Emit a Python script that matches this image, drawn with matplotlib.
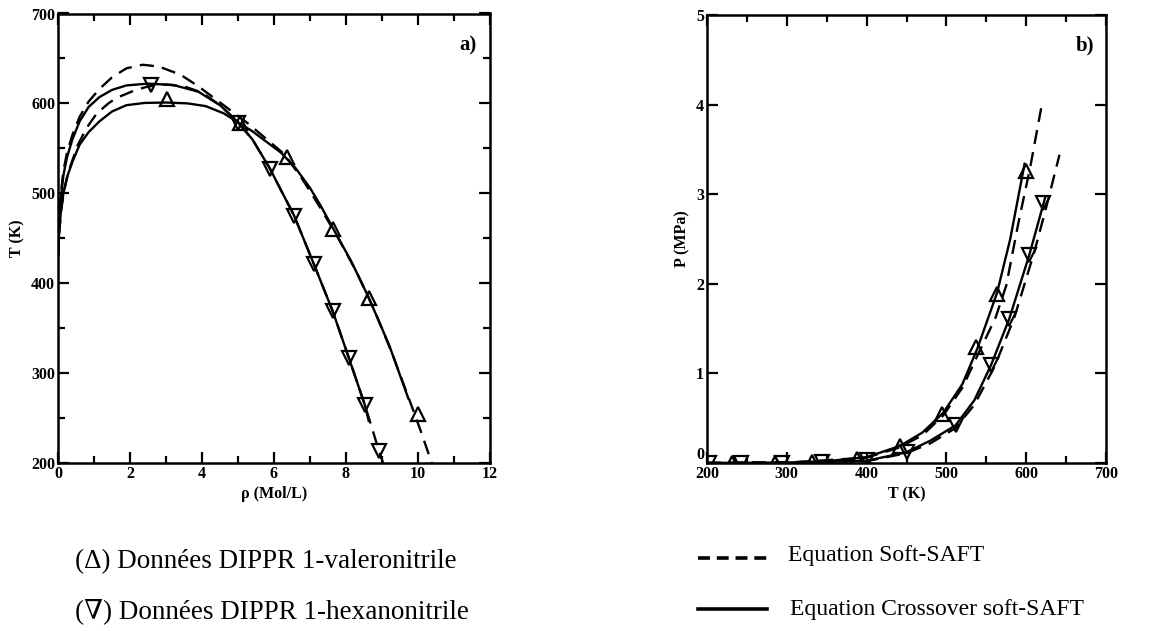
import matplotlib
matplotlib.use("Agg")
import matplotlib.pyplot as plt
from matplotlib.ticker import MultipleLocator
from matplotlib.lines import Line2D

# ---------------- Panel a) data : T (K) vs rho (mol/L) ----------------
val_data_rho = [3.02, 5.05, 6.37, 7.64, 8.63, 10.0]
val_data_T = [605, 578, 540, 460, 383, 254]
hex_data_rho = [2.58, 5.0, 5.88, 6.55, 7.11, 7.63, 8.07, 8.52, 8.92]
hex_data_T = [620, 578, 527, 475, 421, 369, 317, 265, 213]

val_cross_rho = [0.0, 0.03, 0.08, 0.15, 0.25, 0.4, 0.6, 0.85, 1.15, 1.5, 1.9, 2.4, 3.0, 3.6, 4.1, 4.6,
                 5.0, 5.4, 5.8, 6.2, 6.6, 7.0, 7.3, 7.64, 8.15, 8.63, 9.2, 9.73]
val_cross_T = [430, 455, 480, 500, 518, 535, 554, 568, 580, 591, 598, 600.5, 601, 600, 597, 589,
               579, 569, 557, 545, 528, 506, 486, 461, 424, 384, 331, 272]

val_saft_rho = [0.0, 0.03, 0.08, 0.15, 0.25, 0.4, 0.6, 0.85, 1.15, 1.5, 1.9, 2.35, 2.8, 3.4, 3.9, 4.4,
                4.9, 5.3, 5.8, 6.3, 6.8, 7.3, 7.8, 8.3, 8.8, 9.3, 9.8, 10.1, 10.38]
val_saft_T = [430, 470, 500, 525, 545, 565, 585, 602, 616, 629, 639, 643, 641, 632, 619, 604,
              589, 577, 560, 543, 515, 483, 449, 412, 369, 320, 266, 233, 200]

hex_cross_rho = [0.0, 0.03, 0.08, 0.15, 0.25, 0.4, 0.6, 0.85, 1.15, 1.5, 1.9, 2.5, 3.2, 3.9, 4.5, 4.95,
                 5.4, 5.88, 6.2, 6.55, 7.11, 7.63, 8.07, 8.52, 8.63]
hex_cross_T = [430, 465, 495, 520, 540, 560, 580, 596, 607, 615, 620, 622, 620.5, 613, 598, 581,
               560, 528, 503, 476, 421, 369, 318, 265, 247]

hex_saft_rho = [0.0, 0.04, 0.1, 0.18, 0.3, 0.54, 0.8, 1.08, 1.4, 1.62, 2.16, 2.52, 3.0, 3.5, 4.0, 4.5,
                4.95, 5.4, 5.88, 6.2, 6.55, 7.11, 7.63, 8.07, 8.52, 8.92, 9.03]
hex_saft_T = [430, 460, 485, 505, 525, 553, 573, 589, 600, 606, 615, 619, 621, 619, 612, 598,
              581, 560, 528, 503, 476, 421, 369, 318, 265, 213, 200]

# ---------------- Panel b) data : P (MPa) vs T (K) ----------------
val_p_T = [231, 285, 331, 387.5, 441.7, 494, 537.5, 563.5, 600]
val_p_P = [0.0003, 0.003, 0.015, 0.045, 0.19, 0.55, 1.29, 1.89, 3.26]
hex_p_T = [202, 242, 294, 344, 400, 451, 511.5, 556, 579, 604, 621]
hex_p_P = [0.0, 0.0002, 0.001, 0.006, 0.03, 0.125, 0.42, 1.09, 1.61, 2.32, 2.90]

val_pc_T = [200, 250, 300, 350, 400, 441.7, 470, 496, 520, 538.5, 563.5, 580, 598]
val_pc_P = [0.0, 0.0005, 0.004, 0.02, 0.065, 0.19, 0.34, 0.56, 0.88, 1.27, 1.9, 2.5, 3.34]
val_ps_T = [200, 300, 400, 440, 470, 496, 520, 540, 561.5, 575, 590, 605, 618.75]
val_ps_P = [0.0, 0.004, 0.06, 0.17, 0.31, 0.53, 0.84, 1.22, 1.62, 1.98, 2.67, 3.3, 3.96]
hex_pc_T = [200, 300, 400, 450, 480, 511.5, 535, 555.8, 578.8, 603.8, 624]
hex_pc_P = [0.0, 0.001, 0.025, 0.12, 0.25, 0.42, 0.7, 1.09, 1.61, 2.32, 2.97]
hex_ps_T = [200, 400, 450, 480, 511.5, 535, 560, 585, 610, 625, 641.7]
hex_ps_P = [0.0, 0.02, 0.11, 0.22, 0.39, 0.65, 1.07, 1.62, 2.35, 2.85, 3.44]

legend_left = ["(\u0394) Donn\u00e9es DIPPR 1-valeronitrile",
               "(\u2207) Donn\u00e9es DIPPR 1-hexanonitrile"]
legend_right = ["Equation Soft-SAFT", "Equation Crossover soft-SAFT"]

serif = ["Liberation Serif", "DejaVu Serif"]
plt.rcParams['font.family'] = serif
plt.rcParams['mathtext.fontset'] = 'dejavuserif'

fig = plt.figure(figsize=(11.65, 6.31), dpi=100)
axA = fig.add_axes([58 / 1165, 1 - 463 / 631, 432 / 1165, 449.5 / 631])
axB = fig.add_axes([707 / 1165, 1 - 463 / 631, 399 / 1165, 448 / 631])

LW = 1.7
DASH = (0, (6, 3.5))
mk = dict(linestyle='none', markersize=10, markerfacecolor='none',
          markeredgecolor='black', markeredgewidth=1.6)

# Panel a
axA.plot(val_saft_rho, val_saft_T, color='black', lw=LW, linestyle=DASH)
axA.plot(hex_saft_rho, hex_saft_T, color='black', lw=LW, linestyle=DASH)
axA.plot(val_cross_rho, val_cross_T, color='black', lw=LW)
axA.plot(hex_cross_rho, hex_cross_T, color='black', lw=LW)
axA.plot(val_data_rho, val_data_T, marker='^', **mk)
axA.plot(hex_data_rho, hex_data_T, marker='v', **mk)
axA.set_xlim(0, 12)
axA.set_ylim(200, 700)
axA.xaxis.set_major_locator(MultipleLocator(2))
axA.xaxis.set_minor_locator(MultipleLocator(1))
axA.yaxis.set_major_locator(MultipleLocator(100))
axA.yaxis.set_minor_locator(MultipleLocator(50))
axA.set_xlabel("\u03c1 (Mol/L)", fontsize=11.5, fontweight='bold', labelpad=3)
axA.set_ylabel("T (K)", fontsize=11.5, fontweight='bold', labelpad=4)
axA.text(0.97, 0.95, "a)", transform=axA.transAxes, ha='right', va='top',
         fontsize=15, fontweight='bold')

# Panel b
axB.plot(val_ps_T, val_ps_P, color='black', lw=LW, linestyle=DASH)
axB.plot(hex_ps_T, hex_ps_P, color='black', lw=LW, linestyle=DASH)
axB.plot(val_pc_T, val_pc_P, color='black', lw=LW)
axB.plot(hex_pc_T, hex_pc_P, color='black', lw=LW)
axB.plot(val_p_T, val_p_P, marker='^', **mk)
axB.plot(hex_p_T, hex_p_P, marker='v', **mk)
axB.set_xlim(200, 700)
axB.set_ylim(0, 5)
axB.xaxis.set_major_locator(MultipleLocator(100))
axB.xaxis.set_minor_locator(MultipleLocator(50))
axB.yaxis.set_major_locator(MultipleLocator(1))
axB.set_xlabel("T (K)", fontsize=11.5, fontweight='bold', labelpad=3)
axB.set_ylabel("P (MPa)", fontsize=11.5, fontweight='bold', labelpad=4)
axB.text(0.97, 0.955, "b)", transform=axB.transAxes, ha='right', va='top',
         fontsize=15, fontweight='bold')

for ax in (axA, axB):
    for s in ax.spines.values():
        s.set_linewidth(1.8)
    ax.tick_params(which='both', direction='in', top=True, right=True, width=1.6)
    ax.tick_params(which='major', length=8, labelsize=11.5, pad=2)
    ax.tick_params(which='minor', length=5)
    for lab in ax.get_xticklabels() + ax.get_yticklabels():
        lab.set_fontweight('bold')

# lift the "0" label of panel b slightly so it does not collide with "200"
fig.canvas.draw()
for lab in axB.get_yticklabels():
    if lab.get_text() == "0":
        lab.set_va('bottom')

# Bottom legend texts
fig.text(75 / 1165, 1 - 562 / 631, legend_left[0], fontsize=19.5, va='center', ha='left')
fig.text(75 / 1165, 1 - 611 / 631, legend_left[1], fontsize=19.5, va='center', ha='left')
fig.add_artist(Line2D([698 / 1165, 767 / 1165], [1 - 558 / 631, 1 - 558 / 631],
                      color='black', lw=2.6, linestyle=(0, (3.3, 1.9))))
fig.add_artist(Line2D([698 / 1165, 767 / 1165], [1 - 609 / 631, 1 - 609 / 631],
                      color='black', lw=2.6))
fig.text(788 / 1165, 1 - 556 / 631, legend_right[0], fontsize=17, va='center', ha='left')
fig.text(790 / 1165, 1 - 609 / 631, legend_right[1], fontsize=17, va='center', ha='left')

fig.savefig("out.png", dpi=100)
